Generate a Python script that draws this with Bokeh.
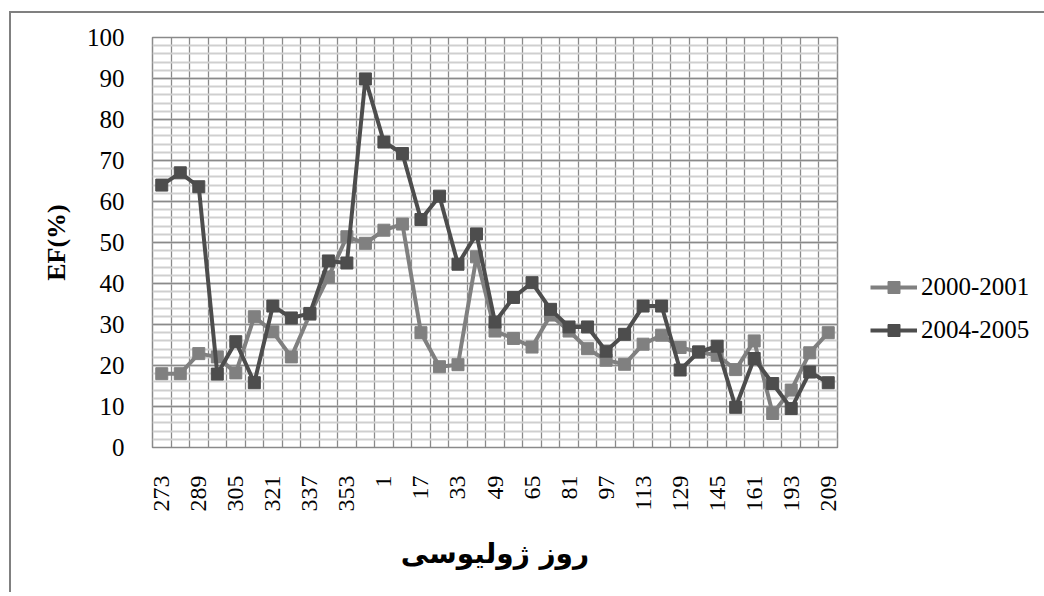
from bokeh.plotting import figure
from bokeh.models import Range1d, FixedTicker, SingleIntervalTicker, Legend, LegendItem
from bokeh.embed import file_html
from bokeh.resources import INLINE

# ---- data (Julian day, EF %) ----
days = [273, 281, 289, 297, 305, 313, 321, 329, 337, 345, 353, 361,
        1, 9, 17, 25, 33, 41, 49, 57, 65, 73, 81, 89, 97, 105, 113, 121,
        129, 137, 145, 153, 161, 177, 193, 201, 209]
ef_2000_2001 = [18.0, 18.0, 22.9, 22.1, 18.2, 31.9, 28.2, 22.1, 32.5, 41.6, 51.4, 49.8,
                53.0, 54.5, 28.0, 19.7, 20.2, 46.5, 28.4, 26.6, 24.5, 32.3, 28.4, 24.1,
                21.3, 20.3, 25.2, 27.4, 24.4, 23.3, 22.5, 19.0, 26.0, 8.3, 14.0, 23.1, 28.0]
ef_2004_2005 = [64.0, 67.0, 63.6, 17.9, 25.8, 15.8, 34.5, 31.6, 32.7, 45.5, 45.0, 89.9,
                74.5, 71.7, 55.6, 61.3, 44.7, 52.1, 30.6, 36.6, 40.2, 33.7, 29.4, 29.4,
                23.5, 27.6, 34.5, 34.5, 18.9, 23.3, 24.7, 9.8, 21.7, 15.6, 9.5, 18.4, 15.8]
series_names = ["2000-2001", "2004-2005"]
series_colors = ["#808080", "#4d4d4d"]
x_title = "روز ژولیوسی"
y_title = "EF(%)"
y_min, y_max, y_step = 0, 100, 10
label_every = 2

idx = list(range(len(days)))
n = len(days)

p = figure(frame_width=685, frame_height=410,
           min_border_left=141, min_border_right=204,
           min_border_top=24, min_border_bottom=145,
           x_range=Range1d(-0.5, n - 0.5), y_range=Range1d(y_min, y_max),
           output_backend="svg", toolbar_location=None,
           background_fill_color="white", border_fill_color="white")
p.styles = {"border-left": "2px solid #808080", "border-top": "2px solid #808080",
            "margin-left": "9px", "margin-top": "11px"}

p.outline_line_color = "#8a8a8a"
p.outline_line_width = 1.5

# x axis: every other category labelled
tick_idx = idx[::label_every]
p.xaxis.ticker = FixedTicker(ticks=tick_idx)
p.xaxis.major_label_overrides = {i: str(days[i]) for i in tick_idx}
p.xaxis.major_label_orientation = 3.14159265 / 2
p.xaxis.major_label_text_font = "Liberation Serif"
p.xaxis.major_label_text_font_size = "24px"
p.xaxis.major_label_text_color = "black"
p.xaxis.major_label_standoff = 22
p.xaxis.axis_line_color = None
p.xaxis.major_tick_line_color = None
p.xaxis.minor_tick_line_color = None
p.xaxis.axis_label = x_title
p.xaxis.axis_label_text_font = "DejaVu Sans"
p.xaxis.axis_label_text_font_style = "bold"
p.xaxis.axis_label_text_font_size = "28px"
p.xaxis.axis_label_text_color = "black"
p.xaxis.axis_label_standoff = 22

# y axis
yt = SingleIntervalTicker(interval=y_step, num_minor_ticks=5)
p.yaxis.ticker = yt
p.yaxis.major_label_text_font = "Liberation Serif"
p.yaxis.major_label_text_font_size = "25px"
p.yaxis.major_label_text_color = "black"
p.yaxis.major_label_standoff = 22
p.yaxis.axis_line_color = None
p.yaxis.major_tick_line_color = None
p.yaxis.minor_tick_line_color = None
p.yaxis.axis_label = y_title
p.yaxis.axis_label_text_font = "Liberation Serif"
p.yaxis.axis_label_text_font_style = "bold"
p.yaxis.axis_label_text_font_size = "26px"
p.yaxis.axis_label_text_color = "black"
p.yaxis.axis_label_standoff = 13

# grids
p.xgrid.ticker = FixedTicker(ticks=[i - 0.5 for i in range(n + 1)])
p.xgrid.grid_line_color = "#8a8a8a"
p.xgrid.grid_line_width = 1.3
p.ygrid.ticker = yt
p.ygrid.grid_line_color = "#8a8a8a"
p.ygrid.grid_line_width = 1.3
p.ygrid.minor_grid_line_color = "#cfcfcf"
p.ygrid.minor_grid_line_width = 1.8

items = []
for name, vals, col in zip(series_names, [ef_2000_2001, ef_2004_2005], series_colors):
    ln = p.line(idx, vals, line_color=col, line_width=4)
    sc = p.scatter(idx, vals, marker="square", size=12, fill_color=col, line_color=col)
    items.append(LegendItem(label=name, renderers=[ln, sc]))

legend = Legend(items=items, location=(33, 102),
                padding=0, margin=0, spacing=13,
                glyph_width=47, glyph_height=30, label_height=30,
                label_standoff=4,
                label_text_font="Liberation Serif", label_text_font_size="25px",
                label_text_color="black",
                border_line_color=None, background_fill_alpha=0)
p.add_layout(legend, "right")

open("out.html", "w").write(file_html(p, INLINE))
